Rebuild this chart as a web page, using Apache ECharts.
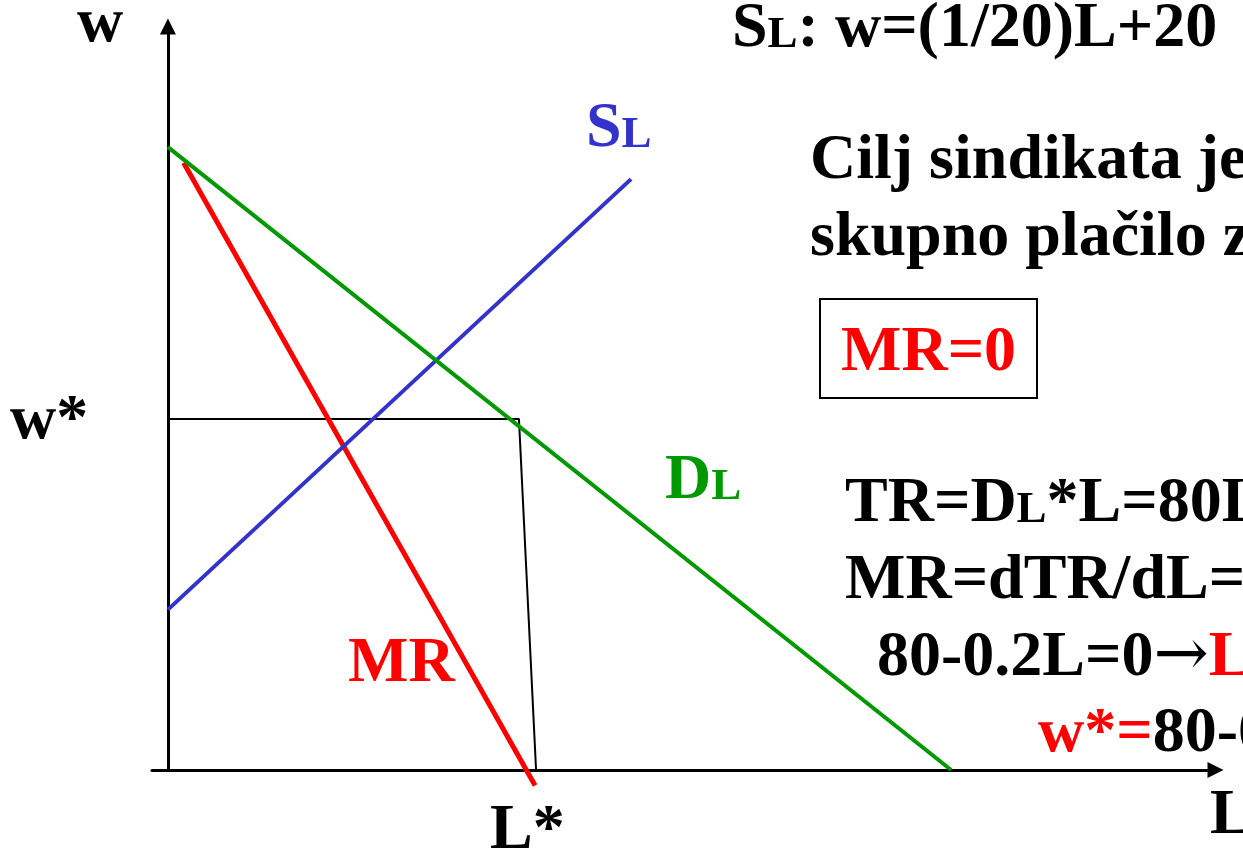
<!DOCTYPE html>
<html>
<head>
<meta charset="utf-8">
<script src="https://cdn.jsdelivr.net/npm/echarts@6/dist/echarts.min.js"></script>
<style>
  html, body { margin: 0; padding: 0; background: #fff; }
  #main { width: 1243px; height: 852px; }
</style>
</head>
<body>
<div id="main"></div>
<script>
// curves, L on x, w on y
var demandPts = [[0, 80], [800, 0]];
var mrPts = [[16, 78], [375, -2]];
var supplyPts = [[0, 20.6], [473, 75.9]];
var optimumPts = [[0, 45.1], [358.5, 45.1], [376, 0]];

var FONT = '"Liberation Serif", "Times New Roman", serif';
var ARROW_FONT = '"DejaVu Serif", serif';
var BIG = 64, SMALL = 45;
var BLACK = '#000', RED = '#ff0000', BLUE = '#3333cc', GREEN = '#009900';

var measureCtx = document.createElement('canvas').getContext('2d');
function textW(t, font) {
  measureCtx.font = font;
  return measureCtx.measureText(t).width;
}

// one line of text made of pieces [text, size, colour, family?, weight?], on one baseline
function textLine(x, base, parts) {
  var out = [];
  parts.forEach(function (p) {
    var font = (p[4] || 'bold') + ' ' + p[1] + 'px ' + (p[3] || FONT);
    out.push({
      type: 'text', silent: true, x: x, y: base - 0.3 * p[1],
      style: { text: p[0], font: font, fill: p[2], align: 'left', verticalAlign: 'middle' }
    });
    x += textW(p[0], font);
  });
  return out;
}

var texts = [].concat(
  textLine(77, 44, [['w', BIG, BLACK]]),
  textLine(732, 49, [['S', BIG, BLACK], ['L', SMALL, BLACK], [': w=(1/20)L+20', BIG, BLACK]]),
  textLine(586, 149, [['S', BIG, BLUE], ['L', SMALL, BLUE]]),
  textLine(810, 181, [['Cilj sindikata je', BIG, BLACK]]),
  textLine(810, 258, [['skupno plačilo za', BIG, BLACK]]),
  textLine(841, 373, [['MR=0', BIG, RED]]),
  textLine(10, 441, [['w*', BIG, BLACK]]),
  textLine(665, 501, [['D', BIG, GREEN], ['L', SMALL, GREEN]]),
  textLine(845, 524, [['TR=D', BIG, BLACK], ['L', SMALL, BLACK], ['*L=80L', BIG, BLACK]]),
  textLine(845, 601, [['MR=dTR/dL=', BIG, BLACK]]),
  textLine(877, 678, [['80-0.2L=0', BIG, BLACK], ['\u2192', 66, BLACK, ARROW_FONT, 'normal'], ['L', BIG, RED]]),
  textLine(1038, 754, [['w*=', BIG, RED], ['80-0', BIG, BLACK]]),
  textLine(348, 684, [['MR', BIG, RED]]),
  textLine(490, 851, [['L*', BIG, BLACK]]),
  textLine(1210, 836, [['L', BIG, BLACK]])
);

texts.push({
  type: 'rect', silent: true,
  shape: { x: 820, y: 299, width: 217, height: 99 },
  style: { fill: 'none', stroke: '#000', lineWidth: 2 }
});

function curve(data, color, width) {
  return {
    type: 'line', data: data, symbol: 'none', clip: false, silent: true,
    lineStyle: { color: color, width: width }
  };
}

var chart = echarts.init(document.getElementById('main'));
chart.setOption({
  animation: false,
  backgroundColor: '#ffffff',
  grid: { left: 152, right: 27.5, top: 26.5, bottom: 82 },
  xAxis: {
    type: 'value', min: -16.3, max: 1070,
    axisLine: { onZero: false, symbol: ['none', 'triangle'], symbolSize: [16, 16], lineStyle: { color: '#000', width: 3 } },
    axisTick: { show: false }, axisLabel: { show: false }, splitLine: { show: false }
  },
  yAxis: {
    type: 'value', min: 0, max: 95.5,
    axisLine: { onZero: true, symbol: ['none', 'triangle'], symbolSize: [16, 16], lineStyle: { color: '#000', width: 3 } },
    axisTick: { show: false }, axisLabel: { show: false }, splitLine: { show: false }
  },
  series: [
    curve(optimumPts, '#000', 2),
    curve(mrPts, RED, 5),
    curve(supplyPts, BLUE, 4),
    curve(demandPts, GREEN, 4)
  ],
  graphic: texts
});
</script>
</body>
</html>
